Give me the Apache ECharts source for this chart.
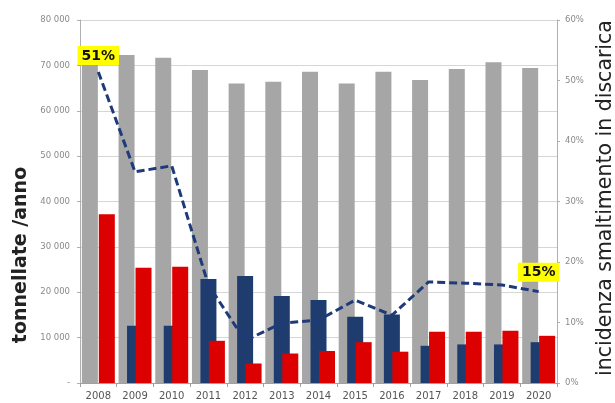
<!DOCTYPE html>
<html>
<head>
<meta charset="utf-8">
<script src="https://cdn.jsdelivr.net/npm/echarts@6/dist/echarts.min.js"></script>
<style>
html,body{margin:0;padding:0;background:#fff;}
#c{width:615px;height:403px;}
</style>
</head>
<body>
<div id="c"></div>
<script>
var years = ['2008','2009','2010','2011','2012','2013','2014','2015','2016','2017','2018','2019','2020'];
var greyTotal = [70500, 72300, 71700, 69000, 66000, 66400, 68600, 66000, 68600, 66800, 69200, 70700, 69400];
var navyValues = [0, 12600, 12600, 22900, 23600, 19200, 18300, 14600, 15100, 8200, 8500, 8500, 9000];
var redValues = [37200, 25400, 25600, 9300, 4300, 6500, 7050, 9000, 6900, 11300, 11300, 11500, 10400];
var pctValues = [51.4, 34.9, 35.9, 16.2, 7.0, 9.9, 10.4, 13.7, 11.2, 16.7, 16.5, 16.2, 15.1];
var leftTicks = [0, 10000, 20000, 30000, 40000, 50000, 60000, 70000, 80000];
var rightTicks = [0, 10, 20, 30, 40, 50, 60];
var labelledPoints = {0: '51%', 12: '15%'};

var FONT = 'DejaVu Sans';
var chart = echarts.init(document.getElementById('c'));

var pctData = pctValues.map(function (v, i) {
  if (labelledPoints[i] !== undefined) {
    return {
      value: v,
      label: {
        show: true,
        position: 'top',
        distance: i === 0 ? 6 : 9,
        offset: i === 0 ? [-4, 0] : [-1, 0],
        formatter: labelledPoints[i],
        backgroundColor: '#ffff00',
        color: '#111',
        fontFamily: FONT,
        fontWeight: 'bold',
        fontSize: 14,
        padding: [3, 4, 2, 4]
      }
    };
  }
  return v;
});

function fmtThousands(v) {
  if (v === 0) return '-';
  var s = String(v);
  return s.replace(/\B(?=(\d{3})+(?!\d))/g, ' ');
}

chart.setOption({
  animation: false,
  backgroundColor: '#ffffff',
  grid: {left: 80, right: 58, top: 20, bottom: 20, containLabel: false},
  xAxis: {
    type: 'category',
    data: years,
    axisLine: {show: true, lineStyle: {color: '#a0a0a0', width: 1}},
    axisTick: {show: true, alignWithLabel: false, length: 4, lineStyle: {color: '#a0a0a0'}},
    axisLabel: {color: '#555', fontFamily: FONT, fontSize: 10, margin: 8}
  },
  yAxis: [
    {
      type: 'value',
      min: leftTicks[0],
      max: leftTicks[leftTicks.length - 1],
      interval: leftTicks[1] - leftTicks[0],
      axisLine: {show: true, lineStyle: {color: '#b0b0b0'}},
      axisTick: {show: true, length: 3, lineStyle: {color: '#b0b0b0'}},
      axisLabel: {color: '#8a8a8a', fontFamily: FONT, fontSize: 8.5, margin: 10, formatter: fmtThousands},
      splitLine: {show: true, lineStyle: {color: '#d6d6d6', width: 1}}
    },
    {
      type: 'value',
      position: 'right',
      min: rightTicks[0],
      max: rightTicks[rightTicks.length - 1],
      interval: rightTicks[1] - rightTicks[0],
      axisLine: {show: true, lineStyle: {color: '#b0b0b0'}},
      axisTick: {show: true, length: 3, lineStyle: {color: '#b0b0b0'}},
      axisLabel: {color: '#8a8a8a', fontFamily: FONT, fontSize: 8.5, margin: 8, formatter: '{value}%'},
      splitLine: {show: false}
    }
  ],
  series: [
    {
      name: 'Totale',
      type: 'bar',
      yAxisIndex: 0,
      data: greyTotal,
      barWidth: 16,
      barGap: '-47%',
      itemStyle: {color: '#a6a6a6'}
    },
    {
      name: 'Serie blu',
      type: 'bar',
      yAxisIndex: 0,
      data: navyValues,
      barWidth: 16,
      barGap: '-47%',
      itemStyle: {color: '#1f3c6e'}
    },
    {
      name: 'Serie rossa',
      type: 'bar',
      yAxisIndex: 0,
      data: redValues,
      barWidth: 16,
      barGap: '-47%',
      itemStyle: {color: '#dc0000'}
    },
    {
      name: 'Incidenza smaltimento in discarica',
      type: 'line',
      yAxisIndex: 1,
      data: pctData,
      symbol: 'circle',
      symbolSize: 2,
      showSymbol: true,
      itemStyle: {color: 'rgba(31,58,122,0)', borderWidth: 0},
      labelLayout: {hideOverlap: false},
      z: 5,
      lineStyle: {color: '#1f3a7a', width: 3, type: [8, 4]}
    }
  ],
  graphic: [
    {
      type: 'text',
      x: 21,
      y: 255,
      rotation: Math.PI / 2,
      style: {
        text: 'tonnellate /anno',
        font: 'bold 19px "DejaVu Sans"',
        fill: '#222',
        align: 'center',
        verticalAlign: 'middle'
      }
    },
    {
      type: 'text',
      x: 606,
      y: 198,
      rotation: Math.PI / 2,
      style: {
        text: 'incidenza smaltimento in discarica',
        font: '20.5px "DejaVu Sans"',
        fill: '#222',
        align: 'center',
        verticalAlign: 'middle'
      }
    }
  ]
});
</script>
</body>
</html>
